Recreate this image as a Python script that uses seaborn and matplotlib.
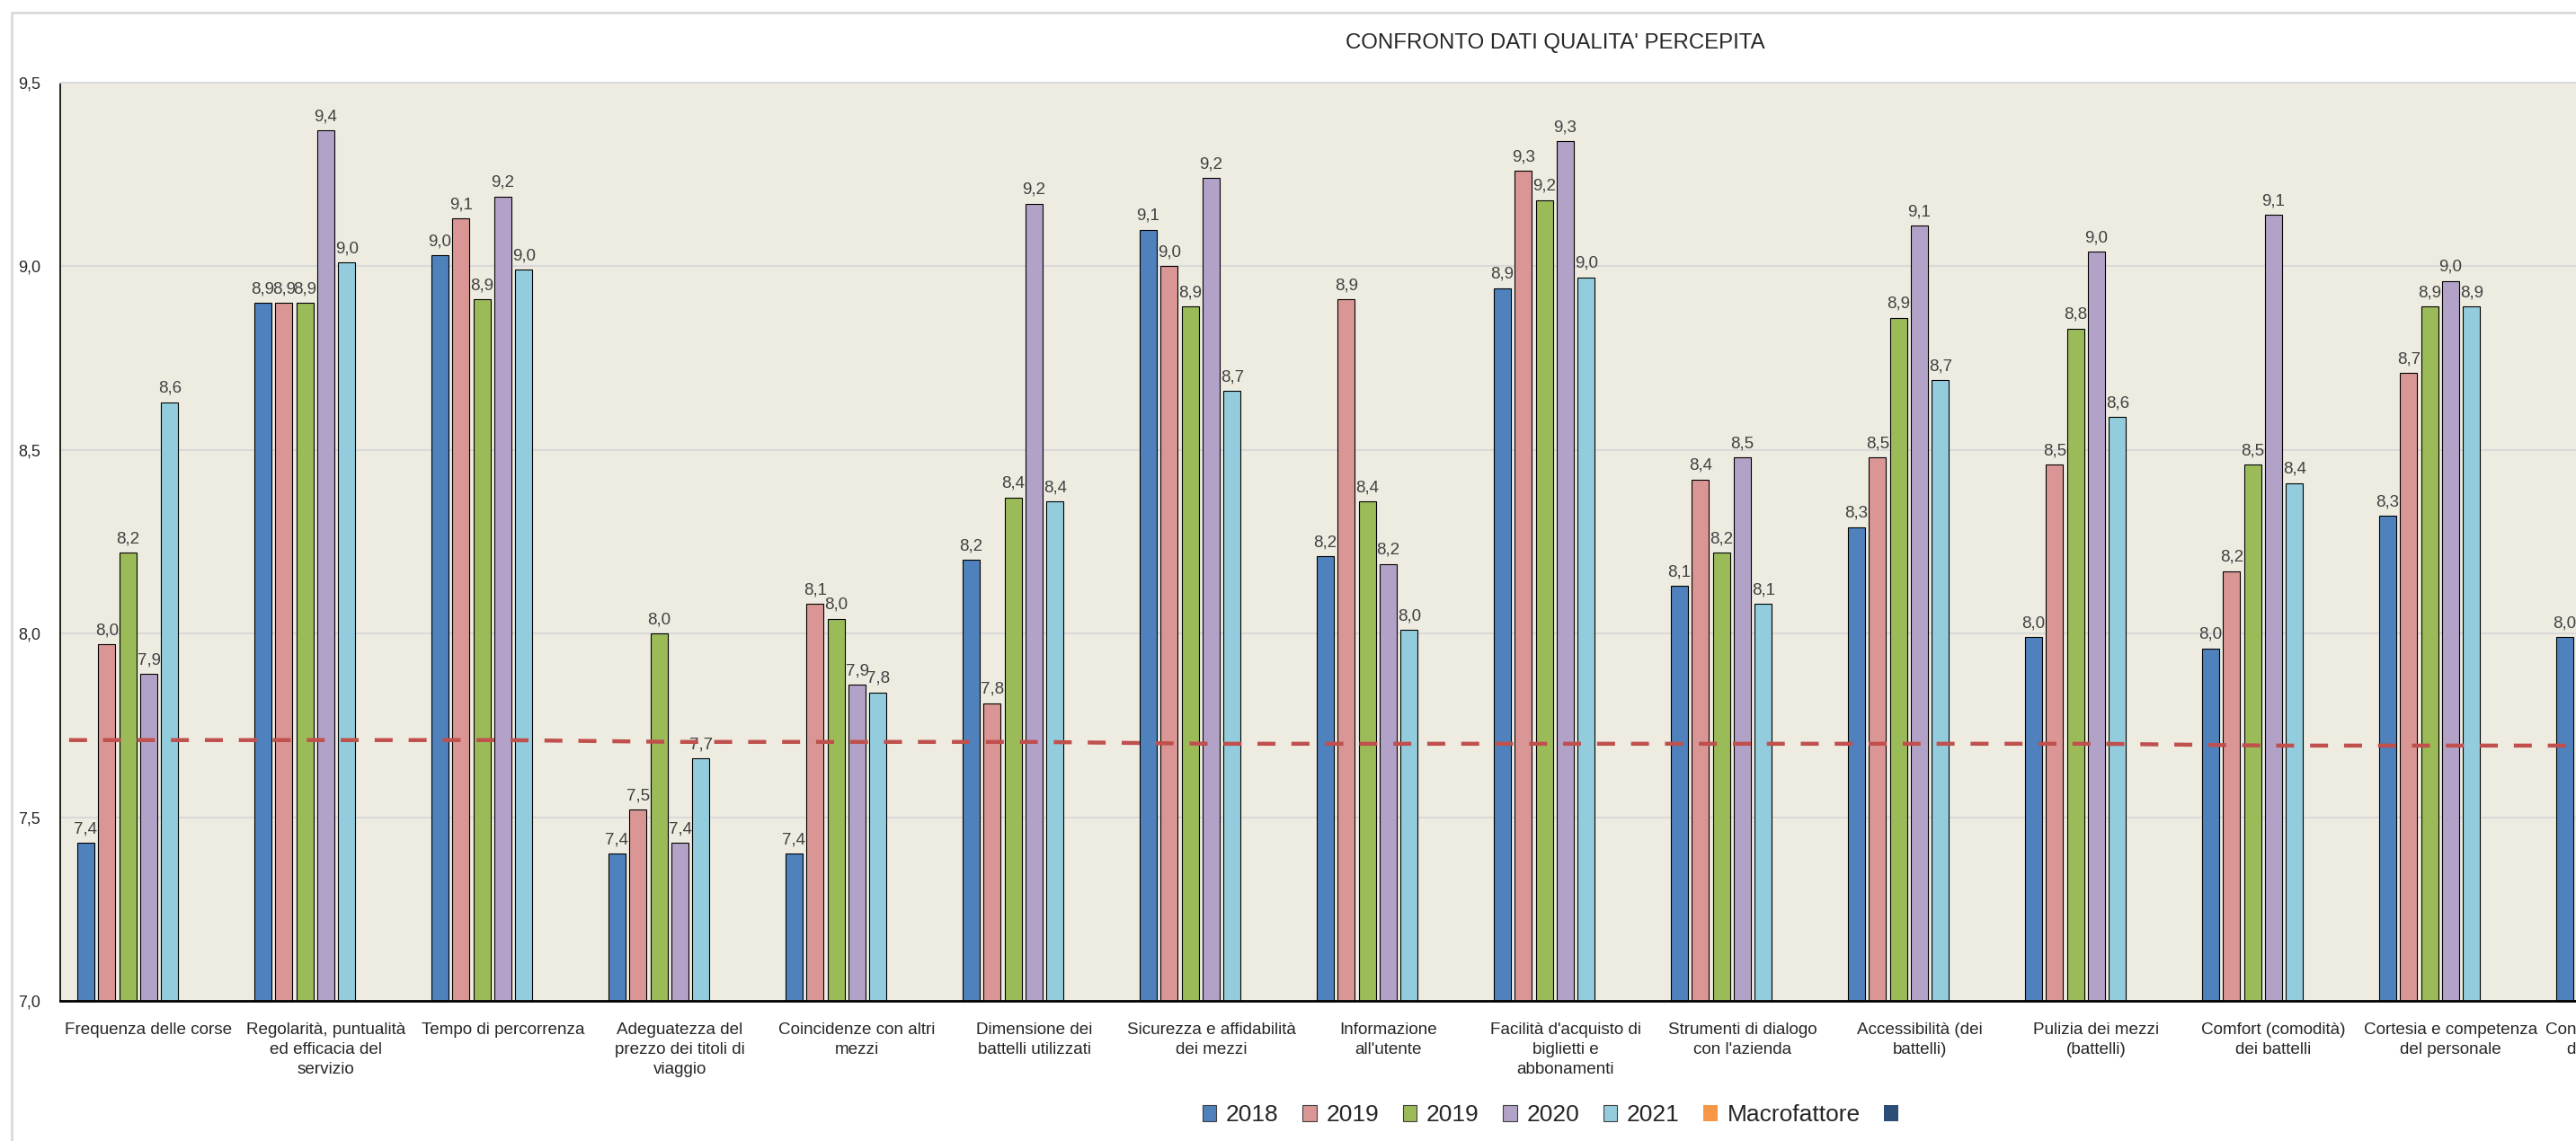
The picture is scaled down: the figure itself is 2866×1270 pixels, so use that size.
import numpy as np
import pandas as pd
import matplotlib
matplotlib.use('Agg')
import matplotlib.pyplot as plt
from matplotlib.patches import Patch, Rectangle
from matplotlib.ticker import FuncFormatter
import seaborn as sns

sns.set_theme(style='white')
plt.rcParams['font.family'] = ['Liberation Sans', 'DejaVu Sans']

categorie = ["Frequenza delle corse",
             "Regolarità, puntualità\ned efficacia del\nservizio",
             "Tempo di percorrenza",
             "Adeguatezza del\nprezzo dei titoli di\nviaggio",
             "Coincidenze con altri\nmezzi",
             "Dimensione dei\nbattelli utilizzati",
             "Sicurezza e affidabilità\ndei mezzi",
             "Informazione\nall'utente",
             "Facilità d'acquisto di\nbiglietti e\nabbonamenti",
             "Strumenti di dialogo\ncon l'azienda",
             "Accessibilità (dei\nbattelli)",
             "Pulizia dei mezzi\n(battelli)",
             "Comfort (comodità)\ndei battelli",
             "Cortesia e competenza\ndel personale",
             "Conoscenza generale\ndei servizi offerti"]

v2018 = [7.43, 8.90, 9.03, 7.40, 7.40, 8.20, 9.10, 8.21, 8.94, 8.13, 8.29, 7.99, 7.96, 8.32, 7.99]
v2019 = [7.97, 8.90, 9.13, 7.52, 8.08, 7.81, 9.00, 8.91, 9.26, 8.42, 8.48, 8.46, 8.17, 8.71, np.nan]
v2019b = [8.22, 8.90, 8.91, 8.00, 8.04, 8.37, 8.89, 8.36, 9.18, 8.22, 8.86, 8.83, 8.46, 8.89, np.nan]
v2020 = [7.89, 9.37, 9.19, 7.43, 7.86, 9.17, 9.24, 8.19, 9.34, 8.48, 9.11, 9.04, 9.14, 8.96, np.nan]
v2021 = [8.63, 9.01, 8.99, 7.66, 7.84, 8.36, 8.66, 8.01, 8.97, 8.08, 8.69, 8.59, 8.41, 8.89, np.nan]
macro = [np.nan] * 15
vuoto = [np.nan] * 15
media = [7.71, 7.71, 7.71, 7.705, 7.705, 7.705, 7.70, 7.70, 7.70, 7.70, 7.70, 7.70, 7.695, 7.695, 7.695]

serie = ['s2018', 's2019', 's2019b', 's2020', 's2021', 'macro', 'vuoto']
etichette = ['2018', '2019', '2019', '2020', '2021', 'Macrofattore', '']
colori = ['#4F81BD', '#DA9694', '#9BBB59', '#B3A2C7', '#93CDDD', '#F79646', '#2C4D75']
valori = [v2018, v2019, v2019b, v2020, v2021, macro, vuoto]

df = pd.DataFrame([(c, s, v) for s, vals in zip(serie, valori) for c, v in zip(categorie, vals)],
                  columns=['cat', 'serie', 'val'])

W, H = 2866, 1270
fig = plt.figure(figsize=(W / 100, H / 100), dpi=100)
fig.patches.append(Rectangle((13 / W, -0.1), 2, 1.1 - 14 / H, transform=fig.transFigure,
                             fill=False, edgecolor='#d9d9d9', lw=2))

ax = fig.add_axes([67 / W, 156 / H, 197 * 17 / W, (1114 - 92) / H])
ax.set_facecolor('#EEECE1')

sns.barplot(data=df, x='cat', y='val', hue='serie', order=categorie, hue_order=serie,
            palette=dict(zip(serie, colori)), saturation=1, width=0.83, gap=0.18,
            edgecolor='black', linewidth=0.8, errorbar=None, legend=False, ax=ax)

# etichette dati sopra le barre
for cont in ax.containers:
    col = '#000000' if cont.get_label() == 's2018' else '#404040'
    ax.bar_label(cont, fmt=lambda v: f"{v:.1f}".replace('.', ','), padding=5,
                 fontsize=13.5, color=col)

# linea media tratteggiata
xs = [-0.45] + list(range(len(media))) + [16.5]
ys = [media[0]] + media + [media[-1]]
sns.lineplot(x=xs, y=ys, color='#C0504D', lw=3.2, ax=ax, zorder=5)
ax.lines[-1].set_dashes((4.5, 4))

ax.set_xlim(-0.5, 16.5)
ax.set_ylim(7, 9.5)
ax.set_yticks([7, 7.5, 8, 8.5, 9, 9.5])
ax.yaxis.set_major_formatter(FuncFormatter(lambda v, p: f"{v:.1f}".replace('.', ',')))
ax.yaxis.grid(True, color='#d9d9d9', lw=1.5)
ax.set_axisbelow(True)
ax.tick_params(axis='y', length=0, pad=16, labelsize=13, labelcolor='#262626')
ax.tick_params(axis='x', length=0, pad=17)
ax.set_xticks(range(len(categorie)))
ax.set_xticklabels(categorie, fontsize=13.6, linespacing=1.4, color='#262626')
ax.set_xlabel('')
ax.set_ylabel('')
for s in ['left', 'bottom']:
    ax.spines[s].set_color('black')
ax.spines['left'].set_linewidth(1.2)
ax.spines['bottom'].set_linewidth(2)
ax.spines['top'].set_color('#d9d9d9')
ax.spines['top'].set_linewidth(1.5)

fig.text(1730 / W, 1 - 48 / H, "CONFRONTO DATI QUALITA' PERCEPITA", ha='center', va='center',
         fontsize=17.3, color='#262626')

handles = []
for lab, c in zip(etichette, colori):
    ec = 'none' if lab in ('Macrofattore', '') else '#404040'
    handles.append(Patch(facecolor=c, edgecolor=ec, lw=0.8))
fig.legend(handles, etichette, loc='center', bbox_to_anchor=(1730 / W, 1 - 1241 / H), ncol=7,
           frameon=False, fontsize=19, handlelength=0.6, handleheight=0.65,
           handletextpad=0.4, columnspacing=1.0, labelcolor='#262626')

fig.savefig('out.png', dpi=100)
